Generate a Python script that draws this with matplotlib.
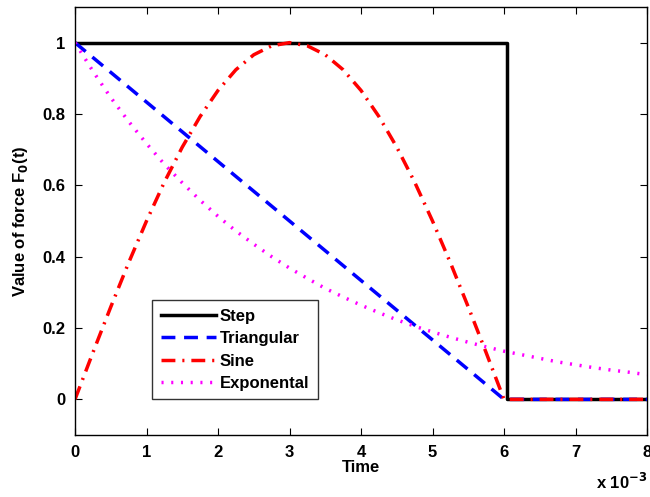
import matplotlib
matplotlib.use("Agg")
import matplotlib.pyplot as plt

plt.rcParams['font.family'] = ['Liberation Sans', 'DejaVu Sans']
plt.rcParams['font.weight'] = 'bold'

# time in units of 1e-3 s
t_step = [0, 6.04, 6.04, 8]
v_step = [1, 1, 0, 0]

t_tri = [0, 6, 8]
v_tri = [1, 0, 0]

t_sine = [0, 0.25, 0.5, 0.75, 1, 1.25, 1.5, 1.75, 2, 2.25, 2.5, 2.75, 3,
          3.25, 3.5, 3.75, 4, 4.25, 4.5, 4.75, 5, 5.25, 5.5, 5.75, 6, 8]
v_sine = [0, 0.131, 0.259, 0.383, 0.5, 0.609, 0.707, 0.793, 0.866, 0.924,
          0.966, 0.991, 1.0, 0.991, 0.966, 0.924, 0.866, 0.793, 0.707, 0.609,
          0.5, 0.383, 0.259, 0.131, 0, 0]

t_exp = [0, 0.25, 0.5, 0.75, 1, 1.25, 1.5, 1.75, 2, 2.25, 2.5, 2.75, 3,
         3.25, 3.5, 3.75, 4, 4.25, 4.5, 4.75, 5, 5.25, 5.5, 5.75, 6,
         6.25, 6.5, 6.75, 7, 7.25, 7.5, 7.75, 8]
v_exp = [1, 0.920, 0.846, 0.779, 0.717, 0.659, 0.607, 0.558, 0.513, 0.472,
         0.435, 0.400, 0.368, 0.339, 0.311, 0.287, 0.264, 0.243, 0.223, 0.205,
         0.189, 0.174, 0.160, 0.147, 0.135, 0.125, 0.115, 0.105, 0.097, 0.089,
         0.082, 0.076, 0.069]

labels = ['Step', 'Triangular', 'Sine', 'Exponental']
xticks = [0, 1, 2, 3, 4, 5, 6, 7, 8]
yticks = [0, 0.2, 0.4, 0.6, 0.8, 1]
ytick_labels = ['0', '0.2', '0.4', '0.6', '0.8', '1']

fig = plt.figure(figsize=(6.5, 4.97), dpi=100)
ax = fig.add_axes([0.1154, 0.1247, 0.8800, 0.8613])

lw = 2.5
ax.plot(t_step, v_step, color='black', lw=lw, label=labels[0])
ax.plot(t_tri, v_tri, color='#0000ff', lw=lw, linestyle=(0, (4, 2.5)), label=labels[1])
ax.plot(t_sine, v_sine, color='#ff0000', lw=lw, linestyle=(0, (4, 2, 0.6, 2)), label=labels[2])
ax.plot(t_exp, v_exp, color='#ff00ff', lw=lw, linestyle=(0, (0.6, 2.2)), label=labels[3])

ax.set_xlim(0, 8)
ax.set_ylim(-0.1, 1.1)
ax.set_xticks(xticks)
ax.set_xticklabels([str(x) for x in xticks])
ax.set_yticks(yticks)
ax.set_yticklabels(ytick_labels)
ax.tick_params(direction='in', top=True, right=True, labelsize=12, length=5, width=0.8, pad=7)
for s in ax.spines.values():
    s.set_linewidth(1.0)

ax.set_xlabel('Time', fontsize=12, fontweight='bold', labelpad=0)
ax.set_ylabel('Value of force F$_\\mathbf{0}$(t)', fontsize=12, fontweight='bold', labelpad=9)
ax.text(1.0, -0.085, 'x 10$^{\\mathbf{-3}}$', transform=ax.transAxes, ha='right', va='top',
        fontsize=12, fontweight='bold')

leg = ax.legend(loc='lower left', bbox_to_anchor=(0.135, 0.083), fontsize=12,
                frameon=True, fancybox=False, edgecolor='black', handlelength=3.3,
                borderpad=0.5, labelspacing=0.45, handletextpad=0.25, borderaxespad=0)
leg.get_frame().set_linewidth(1.0)

fig.savefig('out.png', dpi=100)
